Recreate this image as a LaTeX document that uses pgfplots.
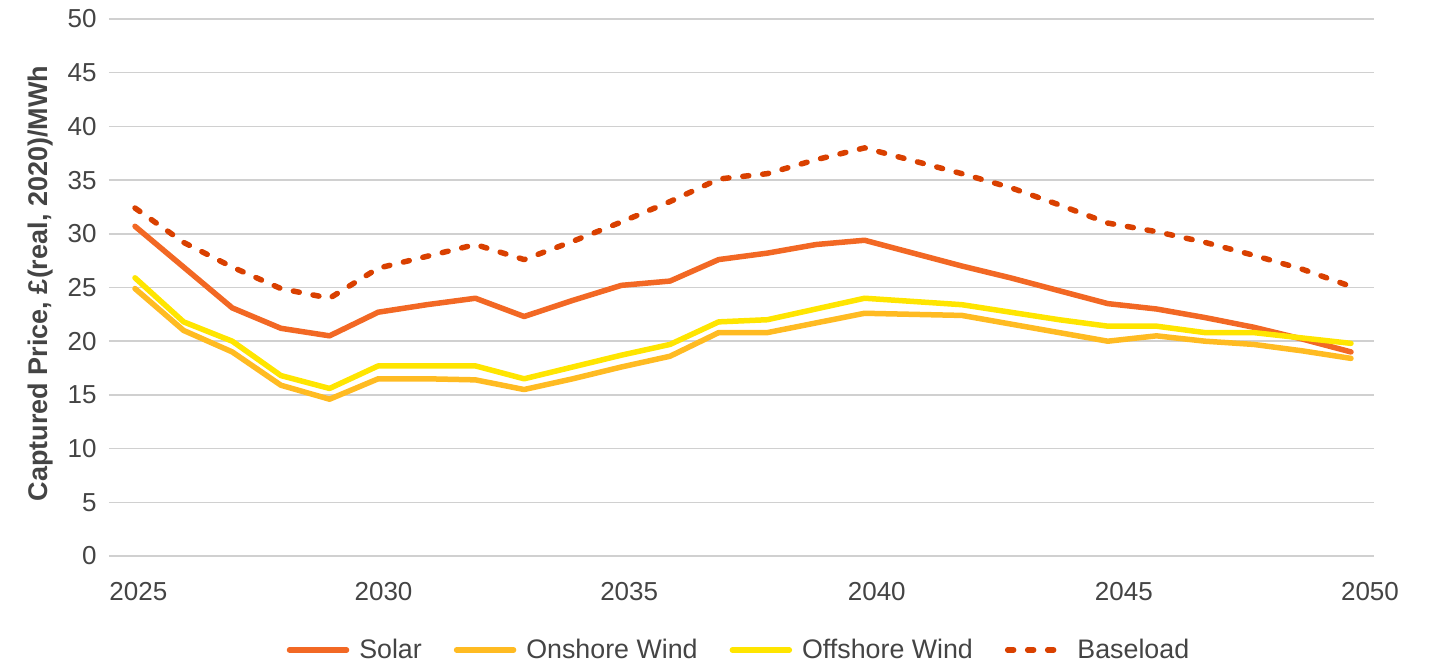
\documentclass[border=0pt]{standalone}
\usepackage{fontspec}
\setmainfont{Liberation Sans}
\usepackage{pgfplots}
\pgfplotsset{compat=1.18}
\usepackage{pgfplotstable}

\definecolor{solar}{HTML}{F26824}
\definecolor{onshore}{HTML}{FFBB22}
\definecolor{offshore}{HTML}{FFE500}
\definecolor{baseload}{HTML}{D94000}
\definecolor{gridgray}{HTML}{D0D0D0}
\definecolor{txt}{HTML}{444444}

\pgfplotstableread{
year solar onshore offshore baseload
2025 30.7 24.9 25.9 32.4
2026 26.9 21.0 21.8 29.2
2027 23.1 19.0 20.0 26.9
2028 21.2 15.9 16.8 24.9
2029 20.5 14.6 15.6 24.0
2030 22.7 16.5 17.7 26.8
2031 23.4 16.5 17.7 27.9
2032 24.0 16.4 17.7 29.0
2033 22.3 15.5 16.5 27.6
2034 23.8 16.5 17.6 29.3
2035 25.2 17.6 18.7 31.1
2036 25.6 18.6 19.7 33.0
2037 27.6 20.8 21.8 35.1
2038 28.2 20.8 22.0 35.6
2039 29.0 21.7 23.0 36.9
2040 29.4 22.6 24.0 38.0
2041 28.2 22.5 23.7 36.8
2042 27.0 22.4 23.4 35.6
2043 25.9 21.6 22.7 34.3
2044 24.7 20.8 22.0 32.7
2045 23.5 20.0 21.4 31.0
2046 23.0 20.5 21.4 30.2
2047 22.2 20.0 20.8 29.2
2048 21.3 19.7 20.8 28.0
2049 20.2 19.1 20.3 26.7
2050 19.0 18.4 19.8 25.1
}\prices

\begin{document}
\begin{tikzpicture}
\useasboundingbox (-54.5pt,-54pt) rectangle (663.5pt,278pt);
\begin{axis}[
  at={(0pt,0pt)}, anchor=south west,
  scale only axis, width=632.5pt, height=268.5pt,
  xmin=2024.4655, xmax=2050.473, ymin=0, ymax=50,
  axis line style={draw=none},
  tick style={draw=none},
  ytick={0,5,...,50},
  xtick={2025.07,2030.11,2035.16,2040.25,2045.33,2050.39},
  xticklabels={2025,2030,2035,2040,2045,2050},
  ymajorgrids,
  grid style={line width=0.75pt, gridgray},
  tick label style={font=\fontsize{13}{15.6}\selectfont, text=txt,
    /pgf/number format/assume math mode=true},
  yticklabel style={anchor=east, inner sep=0pt, xshift=-6pt},
  xticklabel style={anchor=north, inner sep=0pt, yshift=-13pt},
  ylabel={Captured Price, £(real, 2020)/MWh},
  ylabel style={at={(axis description cs:-0.0545,0.5075)}, anchor=center,
    font=\fontsize{13.5}{16}\selectfont\bfseries, text=txt},
  legend style={at={(axis description cs:0.4988,-0.175)}, anchor=center,
    draw=none, fill=none, legend columns=-1,
    font=\fontsize{13.4}{16}\selectfont, text=txt,
    /tikz/every odd column/.append style={column sep=3pt},
    /tikz/every even column/.append style={column sep=14pt}},
  legend cell align=left,
  legend image code/.code={\draw[#1] (1.5pt,0pt) -- (30pt,0pt);},
  every axis plot/.append style={line width=2.75pt, line join=round, line cap=round},
]
\addplot[solar] table[x=year, y=solar] {\prices};
\addplot[onshore] table[x=year, y=onshore] {\prices};
\addplot[offshore] table[x=year, y=offshore] {\prices};
\addplot[baseload, dash pattern=on 3pt off 7pt] table[x=year, y=baseload] {\prices};
\legend{Solar, Onshore Wind, Offshore Wind, Baseload}
\end{axis}
\end{tikzpicture}
\end{document}
